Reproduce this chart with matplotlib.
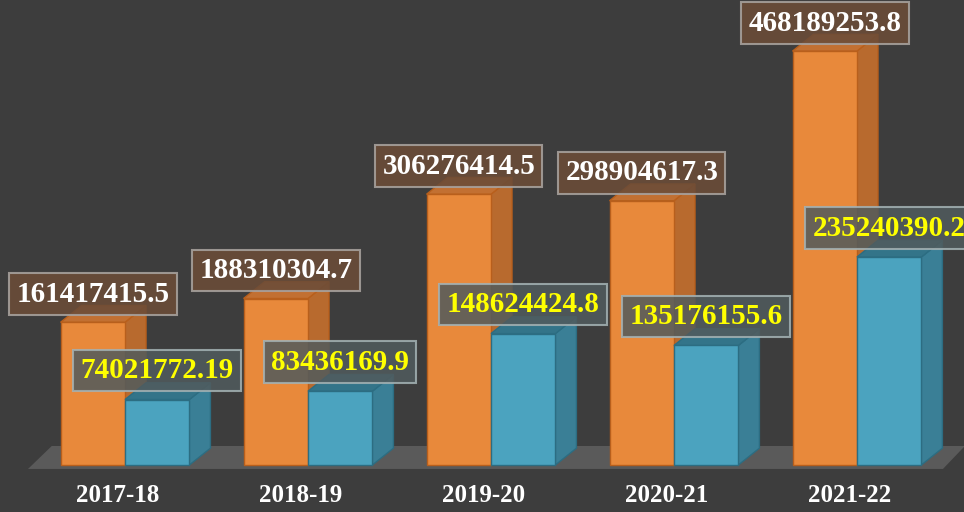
import numpy as np
import matplotlib.pyplot as plt
from matplotlib.patches import Polygon

years = ['2017-18', '2018-19', '2019-20', '2020-21', '2021-22']
orange_vals = [161417415.5, 188310304.7, 306276414.5, 298904617.3, 468189253.8]
blue_vals = [74021772.19, 83436169.9, 148624424.8, 135176155.6, 235240390.2]
orange_lbls = ['161417415.5', '188310304.7', '306276414.5', '298904617.3', '468189253.8']
blue_lbls = ['74021772.19', '83436169.9', '148624424.8', '135176155.6', '235240390.2']

bg = '#3d3d3d'
bar_w = 0.352
dx = 0.115          # depth in category units
dy = 19e6           # depth in value units
font = 'Liberation Serif'


def box3d(ax, x0, w, h, front, side, top, edge):
    # side face, top face, then front face
    ax.add_patch(Polygon([(x0 + w, 0), (x0 + w + dx, dy), (x0 + w + dx, h + dy), (x0 + w, h)],
                         closed=True, fc=side, ec=edge, lw=1, zorder=3))
    ax.add_patch(Polygon([(x0, h), (x0 + dx, h + dy), (x0 + w + dx, h + dy), (x0 + w, h)],
                         closed=True, fc=top, ec=edge, lw=1, zorder=3))
    ax.add_patch(Polygon([(x0, 0), (x0 + w, 0), (x0 + w, h), (x0, h)],
                         closed=True, fc=front, ec=edge, lw=1, zorder=3))


fig = plt.figure(figsize=(9.64, 5.12), dpi=100)
fig.patch.set_facecolor(bg)
ax = fig.add_axes([0, 0, 1, 1])
ax.set_facecolor(bg)
ax.set_xlim(-0.683, 4.585)
ax.set_ylim(-53.2e6, 526e6)
ax.axis('off')

# floor
ax.add_patch(Polygon([(-0.53, -4.5e6), (4.47, -4.5e6), (4.59, 21.5e6), (-0.40, 21.5e6)],
                     closed=True, fc='#5a5a5a', ec='none', zorder=1))

x = np.arange(len(years))
for i in x:
    box3d(ax, i - bar_w, bar_w, orange_vals[i], '#e8893b', '#b86a2e', '#c27032', '#b85f1c')
    box3d(ax, i, bar_w, blue_vals[i], '#4ba3bf', '#3a7f96', '#337489', '#2c6d82')

for i in x:
    ax.annotate(orange_lbls[i], xy=(i - bar_w / 2, orange_vals[i]), xytext=(0, 28),
                textcoords='offset pixels', ha='center', va='center',
                fontsize=21, fontweight='bold', family=font, color='white', zorder=6,
                bbox=dict(boxstyle='square,pad=0.25', fc='#6b4c38', ec='#a8a29e', lw=1.5, alpha=0.88))
    ax.annotate(blue_lbls[i], xy=(i + bar_w / 2, blue_vals[i]), xytext=(0, 29),
                textcoords='offset pixels', ha='center', va='center',
                fontsize=21, fontweight='bold', family=font, color='#ffff00', zorder=6,
                bbox=dict(boxstyle='square,pad=0.25', fc='#515b5d', ec='#a4b2b4', lw=1.5, alpha=0.85))
    ax.text(i - 0.04, -35e6, years[i], ha='center', va='center', fontsize=18,
            fontweight='bold', family=font, color='white')

fig.savefig('out.png', dpi=100, facecolor=bg)
